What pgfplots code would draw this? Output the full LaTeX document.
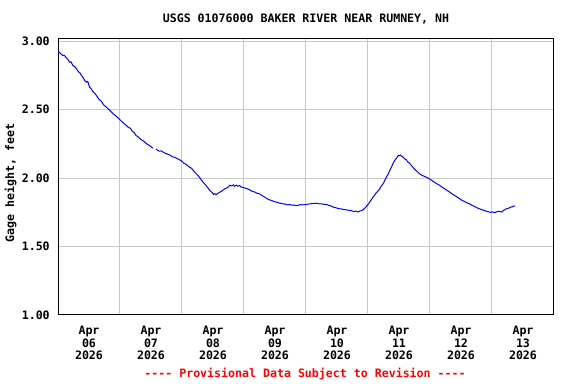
\documentclass[border=0pt]{standalone}
\usepackage{pgfplots}
\pgfplotsset{compat=1.18}
\usepackage{fontspec}
\setmainfont{DejaVu Sans Mono}
\definecolor{gridgray}{RGB}{200,200,200}
\begin{document}
\begin{tikzpicture}[font=\fontsize{8.7}{9.5}\selectfont\bfseries]
\path[use as bounding box] (0,0) rectangle (432pt,288pt);
\begin{axis}[
  at={(43.5pt,51.75pt)}, anchor=south west,
  scale only axis, width=372pt, height=207pt,
  xmin=0, xmax=8, ymin=1, ymax=3.015,
  xtick={0.5,1.5,2.5,3.5,4.5,5.5,6.5,7.5},
  xticklabels={{Apr\\06\\2026},{Apr\\07\\2026},{Apr\\08\\2026},{Apr\\09\\2026},{Apr\\10\\2026},{Apr\\11\\2026},{Apr\\12\\2026},{Apr\\13\\2026}},
  minor xtick={1,2,3,4,5,6,7},
  xminorgrids=true, xmajorgrids=false,
  ytick={1,1.5,2,2.5,3},
  ymajorgrids=true,
  major tick length=0pt, minor tick length=0pt,
  grid style={gridgray, line width=0.75pt},
  minor grid style={gridgray, line width=0.75pt},
  axis line style={black, line width=0.75pt},
  yticklabel style={/pgf/number format/fixed, /pgf/number format/fixed zerofill, /pgf/number format/precision=2, inner sep=0pt, xshift=-6pt, font=\fontsize{8.7}{9.5}\selectfont\bfseries},
  /pgf/number format/assume math mode=true,
  xticklabel style={align=center, inner sep=0pt, yshift=-8pt, font=\fontsize{8.7}{9.5}\selectfont\bfseries},
  unbounded coords=jump,
  clip=true,
]
\addplot[color={rgb,255:red,0;green,0;blue,255}, line width=0.75pt] coordinates {
(0.00,2.918) (0.02,2.920) (0.04,2.908) (0.08,2.894) (0.10,2.896) (0.13,2.880) (0.16,2.866) (0.19,2.845) (0.21,2.848) (0.24,2.822) (0.27,2.812) (0.30,2.797) (0.33,2.775) (0.35,2.770) (0.38,2.748) (0.40,2.736) (0.43,2.712) (0.46,2.700) (0.48,2.705) (0.51,2.663) (0.54,2.650) (0.56,2.633) (0.59,2.620) (0.62,2.602) (0.66,2.575) (0.70,2.560) (0.74,2.532) (0.78,2.517) (0.84,2.492) (0.89,2.469) (0.95,2.447) (1.00,2.425) (1.06,2.400) (1.10,2.385) (1.13,2.371) (1.17,2.362) (1.20,2.340) (1.23,2.332) (1.26,2.310) (1.30,2.298) (1.34,2.280) (1.38,2.270) (1.43,2.250) (1.46,2.242) (1.51,2.225) (1.53,2.218)
(1.555,nan)
(1.58,2.212) (1.59,2.208) (1.63,2.196) (1.67,2.198) (1.71,2.184) (1.75,2.177) (1.79,2.170) (1.82,2.165) (1.85,2.152) (1.88,2.152) (1.94,2.138) (2.00,2.123) (2.03,2.108) (2.06,2.102) (2.09,2.090) (2.12,2.079) (2.15,2.072) (2.18,2.057) (2.21,2.040) (2.23,2.031) (2.26,2.018) (2.29,2.000) (2.34,1.969) (2.37,1.955) (2.40,1.938) (2.45,1.909) (2.49,1.892) (2.51,1.880) (2.53,1.886) (2.55,1.878) (2.57,1.885) (2.61,1.896) (2.65,1.908) (2.69,1.921) (2.72,1.928) (2.75,1.935) (2.77,1.948) (2.80,1.942) (2.83,1.950) (2.85,1.940) (2.88,1.948) (2.90,1.940) (2.93,1.945) (2.95,1.935) (3.01,1.928) (3.06,1.920) (3.09,1.915) (3.12,1.905) (3.15,1.900) (3.18,1.897) (3.21,1.888) (3.25,1.885) (3.29,1.872) (3.33,1.862) (3.37,1.850) (3.41,1.841) (3.45,1.835) (3.50,1.826) (3.54,1.822) (3.58,1.816) (3.62,1.812) (3.66,1.810) (3.70,1.804) (3.74,1.806) (3.77,1.802) (3.80,1.803) (3.84,1.799) (3.87,1.800) (3.91,1.806) (3.94,1.804) (4.00,1.807) (4.04,1.810) (4.08,1.812) (4.12,1.815) (4.17,1.816) (4.21,1.812) (4.25,1.812) (4.29,1.808) (4.33,1.807) (4.37,1.800) (4.41,1.795) (4.45,1.786) (4.49,1.782) (4.53,1.776) (4.57,1.774) (4.61,1.770) (4.65,1.768) (4.69,1.764) (4.73,1.762) (4.77,1.756) (4.81,1.758) (4.84,1.752) (4.87,1.760) (4.90,1.762) (4.92,1.768) (4.96,1.785) (5.00,1.807) (5.04,1.832) (5.08,1.860) (5.10,1.872) (5.13,1.890) (5.16,1.905) (5.19,1.921) (5.21,1.938) (5.23,1.950) (5.25,1.962) (5.27,1.982) (5.29,2.000) (5.31,2.018) (5.33,2.032) (5.35,2.055) (5.37,2.072) (5.39,2.092) (5.41,2.112) (5.43,2.128) (5.45,2.140) (5.47,2.152) (5.49,2.165) (5.50,2.162) (5.52,2.168) (5.54,2.160) (5.56,2.155) (5.59,2.140) (5.62,2.132) (5.64,2.118) (5.67,2.108) (5.70,2.091) (5.73,2.075) (5.76,2.060) (5.80,2.045) (5.83,2.031) (5.87,2.020) (5.91,2.012) (5.95,2.004) (5.99,1.994) (6.03,1.982) (6.07,1.970) (6.11,1.958) (6.16,1.945) (6.20,1.932) (6.24,1.920) (6.28,1.908) (6.32,1.896) (6.36,1.883) (6.40,1.872) (6.44,1.860) (6.48,1.848) (6.52,1.836) (6.56,1.828) (6.60,1.818) (6.64,1.811) (6.68,1.800) (6.72,1.792) (6.76,1.782) (6.80,1.775) (6.84,1.768) (6.88,1.762) (6.92,1.756) (6.97,1.750) (7.01,1.752) (7.05,1.748) (7.09,1.756) (7.13,1.755) (7.16,1.752) (7.18,1.762) (7.23,1.775) (7.27,1.780) (7.30,1.787) (7.34,1.792) (7.37,1.797)
};
\end{axis}
\node at (229.5pt,273.75pt) {USGS 01076000 BAKER RIVER NEAR RUMNEY, NH};
\node[rotate=90] at (7.9pt,150.75pt) {Gage height, feet};
\node[text={rgb,255:red,255;green,0;blue,0}] at (228.75pt,7.5pt) {-{}-{}-{}- Provisional Data Subject to Revision -{}-{}-{}-};
\end{tikzpicture}
\end{document}
